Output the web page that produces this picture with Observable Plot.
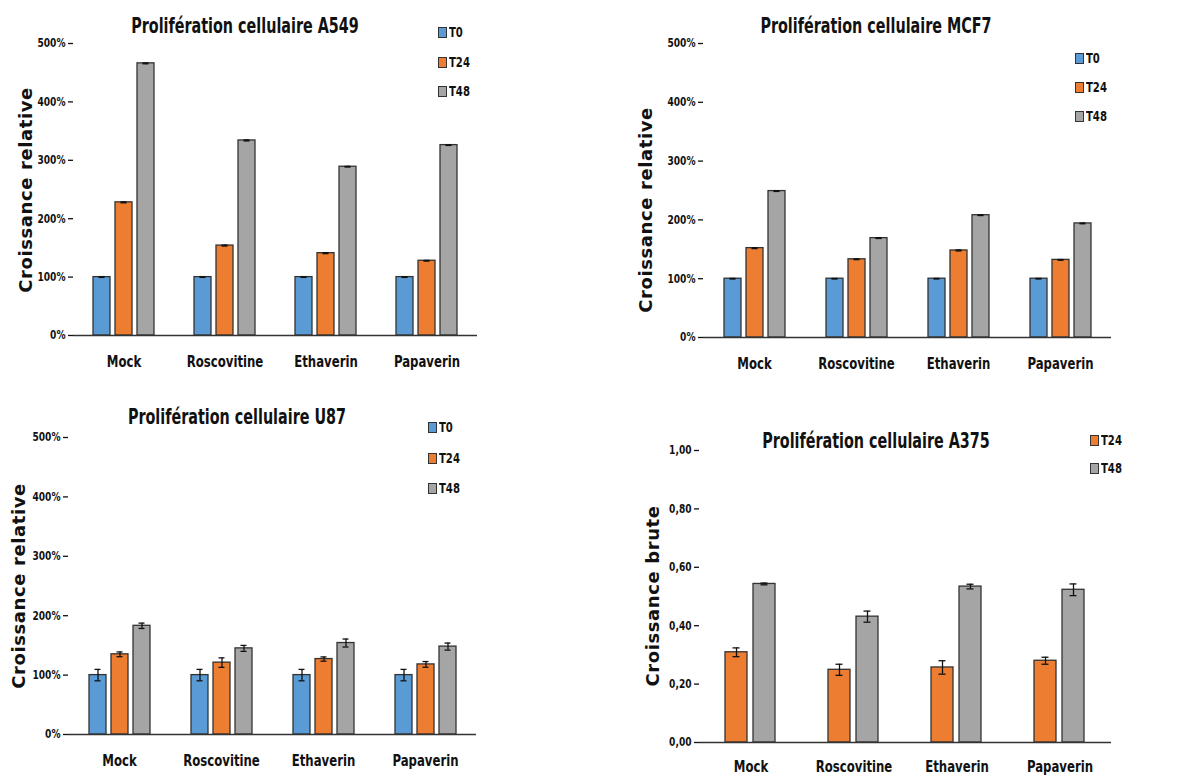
<!DOCTYPE html>
<html><head><meta charset="utf-8">
<script src="https://cdn.jsdelivr.net/npm/d3@7"></script>
<script src="https://cdn.jsdelivr.net/npm/@observablehq/plot@0.6"></script>
<style>
body{margin:0;background:#fff;}
#root{position:relative;width:1193px;height:778px;overflow:hidden;font-family:"Liberation Sans Narrow","DejaVu Sans Condensed",sans-serif;color:#111;}
.panel{position:absolute;}
.title{position:absolute;font-weight:bold;font-size:21px;white-space:nowrap;transform:translate(-50%,-50%) scaleX(0.76);}
.ylab{position:absolute;font-family:"DejaVu Sans",sans-serif;font-weight:bold;font-size:18px;letter-spacing:0.6px;white-space:nowrap;transform:translate(-50%,-50%) rotate(-90deg);}
.legitem{position:absolute;display:flex;align-items:center;font-weight:bold;font-size:14px;white-space:nowrap;transform:translateY(-50%);}
.legitem span{display:inline-block;transform:scaleX(0.8);transform-origin:left center;}
.sw{width:7px;height:9px;border:1px solid #333;margin-right:2px;}
</style>
</head><body><div id="root"></div>
<script>
// ---------- DATA ----------
const categories = ["Mock", "Roscovitine", "Ethaverin", "Papaverin"];
const seriesAll = ["T0", "T24", "T48"];
const seriesA375 = ["T24", "T48"];
const colorsAll = ["#5B9BD5", "#ED7D31", "#A5A5A5"];
const colorsA375 = ["#ED7D31", "#A5A5A5"];

const pctTicks = [0, 100, 200, 300, 400, 500];
const rawTicks = [0, 0.2, 0.4, 0.6, 0.8, 1.0];

const a549T0 = [100, 100, 100, 100];
const a549T24 = [228, 154, 141, 128];
const a549T48 = [466, 334, 289, 326];
const a549ErrT0 = [0.5, 0.5, 0.5, 0.5];
const a549ErrT24 = [0.8, 0.8, 0.8, 0.6];
const a549ErrT48 = [0.8, 0.8, 0.6, 0.6];

const mcf7T0 = [100, 100, 100, 100];
const mcf7T24 = [152, 133, 148, 132];
const mcf7T48 = [249, 169, 208, 194];
const mcf7ErrT0 = [0.5, 0.5, 0.5, 0.5];
const mcf7ErrT24 = [0.8, 0.6, 0.8, 0.6];
const mcf7ErrT48 = [0.6, 0.6, 0.6, 0.6];

const u87T0 = [100, 100, 100, 100];
const u87T24 = [135, 121, 127, 118];
const u87T48 = [183, 145, 154, 148];
const u87ErrT0 = [9.6, 9.6, 9.6, 9.6];
const u87ErrT24 = [4, 8, 3.6, 4.8];
const u87ErrT48 = [4.5, 5, 6.7, 5.9];

const a375T24 = [0.309, 0.249, 0.257, 0.280];
const a375T48 = [0.543, 0.431, 0.534, 0.523];
const a375ErrT24 = [0.015, 0.019, 0.023, 0.012];
const a375ErrT48 = [0.003, 0.019, 0.008, 0.020];

// ---------- BUILD ----------
function table(series, values, errs) {
  const rows = [];
  categories.forEach((c, i) => series.forEach((s, j) => rows.push({cat: c, series: s, value: values[j][i], err: errs[j][i]})));
  return rows;
}
const pctFmt = d => d + "%";
const rawFmt = d => d.toFixed(2).replace(".", ",");

const FONT = '"Liberation Sans Narrow","DejaVu Sans Condensed",sans-serif';

function makePlot(o) {
  return Plot.plot({
    width: o.w, height: o.h,
    marginLeft: o.ml, marginRight: o.mr, marginTop: o.mt, marginBottom: o.mb,
    style: {fontFamily: FONT, background: "transparent", color: "#111"},
    fx: {domain: categories, padding: 0, label: null},
    x: {domain: o.series, paddingInner: o.pi, paddingOuter: o.po, axis: null},
    y: {domain: o.yDomain, axis: null},
    color: {domain: o.series, range: o.colors},
    marks: [
      Plot.barY(o.data, {fx: "cat", x: "series", y: "value", fill: "series", stroke: "#333", strokeWidth: 1.3}),
      Plot.ruleX(o.data, {fx: "cat", x: "series", y1: d => d.value - d.err, y2: d => d.value + d.err, stroke: "#111", strokeWidth: 1.3}),
      Plot.tickY(o.data, {fx: "cat", x: "series", y: d => d.value - d.err, stroke: "#111", strokeWidth: 1.3, insetLeft: o.cap, insetRight: o.cap}),
      Plot.tickY(o.data, {fx: "cat", x: "series", y: d => d.value + d.err, stroke: "#111", strokeWidth: 1.3, insetLeft: o.cap, insetRight: o.cap}),
      Plot.ruleY([0], {stroke: "#333", strokeWidth: 1.5}),
      Plot.axisY({ticks: o.ticks, tickFormat: o.fmt, tickSize: 5, tickPadding: 3, line: true, label: null, fontSize: 12, fontWeight: "bold", strokeWidth: 1.3}),
      Plot.axisFx({anchor: "bottom", tickSize: 0, tickPadding: o.catPad, label: null, fontSize: 15.5, fontWeight: "bold"})
    ]
  });
}

// narrow the condensed fallback font to match the reference's narrow face
function condense(svg, factor) {
  svg.querySelectorAll("text").forEach(t => {
    const L = t.getComputedTextLength();
    if (L > 0) {
      t.setAttribute("textLength", (L * factor).toFixed(2));
      t.setAttribute("lengthAdjust", "spacingAndGlyphs");
    }
  });
}

const root = document.getElementById("root");
function addPanel(o) {
  const div = document.createElement("div");
  div.className = "panel";
  div.style.left = o.left + "px"; div.style.top = o.top + "px";
  const svg = makePlot(o);
  div.appendChild(svg);
  root.appendChild(div);
  condense(svg, 0.84);
  const t = document.createElement("div");
  t.className = "title"; t.textContent = o.title;
  t.style.left = o.tx + "px"; t.style.top = o.ty + "px";
  root.appendChild(t);
  const yl = document.createElement("div");
  yl.className = "ylab"; yl.textContent = o.ylabel;
  yl.style.left = o.yx + "px"; yl.style.top = o.yy + "px";
  root.appendChild(yl);
  o.series.forEach((s, i) => {
    const it = document.createElement("div");
    it.className = "legitem";
    it.style.left = o.lx + "px"; it.style.top = o.ly[i] + "px";
    const sw = document.createElement("div");
    sw.className = "sw"; sw.style.background = o.colors[i];
    it.appendChild(sw);
    const tx = document.createElement("span"); tx.textContent = s;
    it.appendChild(tx);
    root.appendChild(it);
  });
}

addPanel({
  left: 0, top: 0, w: 596, h: 389, ml: 72, mr: 118, mt: 43, mb: 54, pi: 0.244, po: 0.877, cap: 5.5, catPad: 20,
  data: table(seriesAll, [a549T0, a549T24, a549T48], [a549ErrT0, a549ErrT24, a549ErrT48]),
  series: seriesAll, colors: colorsAll, yDomain: [0, 500], ticks: pctTicks, fmt: pctFmt,
  title: "Prolifération cellulaire A549", tx: 245, ty: 26,
  ylabel: "Croissance relative", yx: 25, yy: 190,
  lx: 438, ly: [32, 62, 91]
});
addPanel({
  left: 597, top: 0, w: 596, h: 389, ml: 105, mr: 81, mt: 43, mb: 52, pi: 0.244, po: 0.877, cap: 5.5, catPad: 20,
  data: table(seriesAll, [mcf7T0, mcf7T24, mcf7T48], [mcf7ErrT0, mcf7ErrT24, mcf7ErrT48]),
  series: seriesAll, colors: colorsAll, yDomain: [0, 500], ticks: pctTicks, fmt: pctFmt,
  title: "Prolifération cellulaire MCF7", tx: 876, ty: 26,
  ylabel: "Croissance relative", yx: 645, yy: 210,
  lx: 1075, ly: [58, 87, 116]
});
addPanel({
  left: 0, top: 389, w: 596, h: 389, ml: 67, mr: 119, mt: 48, mb: 44, pi: 0.244, po: 0.877, cap: 5.5, catPad: 20,
  data: table(seriesAll, [u87T0, u87T24, u87T48], [u87ErrT0, u87ErrT24, u87ErrT48]),
  series: seriesAll, colors: colorsAll, yDomain: [0, 500], ticks: pctTicks, fmt: pctFmt,
  title: "Prolifération cellulaire U87", tx: 237, ty: 417,
  ylabel: "Croissance relative", yx: 18, yy: 586,
  lx: 428, ly: [427, 458, 488]
});
addPanel({
  left: 597, top: 389, w: 596, h: 389, ml: 101, mr: 81, mt: 61, mb: 36, pi: 0.2, po: 0.9, cap: 7.5, catPad: 18,
  data: table(seriesA375, [a375T24, a375T48], [a375ErrT24, a375ErrT48]),
  series: seriesA375, colors: colorsA375, yDomain: [0, 1], ticks: rawTicks, fmt: rawFmt,
  title: "Prolifération cellulaire A375", tx: 876, ty: 441,
  ylabel: "Croissance brute", yx: 652, yy: 596,
  lx: 1090, ly: [440, 468]
});
</script>
</body></html>
